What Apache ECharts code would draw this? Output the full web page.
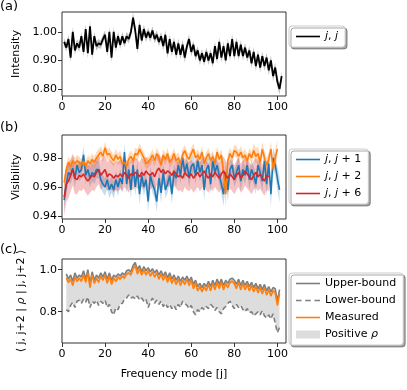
<!DOCTYPE html>
<html>
<head>
<meta charset="utf-8">
<script src="https://cdn.jsdelivr.net/npm/echarts@6/dist/echarts.min.js"></script>
<style>
  html, body { margin: 0; padding: 0; background: #fff; }
  #chart { width: 407px; height: 390px; }
</style>
</head>
<body>
<div id="chart"></div>
<script>
// (a) intensity, modes j = 1..102
const intensity = [
  0.965, 0.945, 0.975, 0.91, 1.00, 0.935, 0.96, 0.945, 0.985, 0.93,
  1.01, 0.925, 1.02, 0.92, 0.985, 0.95, 0.96, 0.955, 0.975, 0.99,
  0.93, 1.00, 0.91, 1.00, 0.945, 0.985, 0.955, 0.985, 0.96, 0.985,
  0.975, 1.00, 1.05, 1.005, 0.94, 1.025, 0.97, 1.01, 0.98, 1.00,
  0.98, 1.005, 0.975, 0.99, 0.965, 0.985, 0.95, 0.99, 0.925, 0.975,
  0.93, 0.965, 0.92, 0.96, 0.92, 0.955, 0.91, 0.95, 0.975, 0.93,
  0.955, 0.915, 0.935, 0.90, 0.925, 0.895, 0.93, 0.90, 0.925, 0.89,
  0.95, 0.905, 0.965, 0.91, 0.95, 0.90, 0.96, 0.915, 0.975, 0.915,
  0.965, 0.915, 0.955, 0.915, 0.945, 0.91, 0.935, 0.89, 0.93, 0.88,
  0.92, 0.875, 0.915, 0.88, 0.91, 0.865, 0.90, 0.845, 0.875, 0.825,
  0.80, 0.845
];
const intensityErr = [
  0.014, 0.014, 0.015, 0.018, 0.017, 0.015, 0.014, 0.015, 0.016, 0.017,
  0.018, 0.018, 0.019, 0.018, 0.016, 0.016, 0.015, 0.015, 0.015, 0.016,
  0.017, 0.017, 0.018, 0.017, 0.016, 0.016, 0.015, 0.015, 0.015, 0.015,
  0.015, 0.016, 0.018, 0.017, 0.017, 0.017, 0.016, 0.016, 0.015, 0.015,
  0.015, 0.015, 0.015, 0.015, 0.015, 0.015, 0.016, 0.017, 0.017, 0.017,
  0.016, 0.017, 0.016, 0.017, 0.016, 0.018, 0.017, 0.016, 0.016, 0.016,
  0.015, 0.016, 0.015, 0.016, 0.015, 0.015, 0.015, 0.016, 0.015, 0.016,
  0.016, 0.017, 0.017, 0.017, 0.016, 0.017, 0.017, 0.017, 0.018, 0.017,
  0.017, 0.016, 0.016, 0.016, 0.016, 0.016, 0.016, 0.017, 0.016, 0.017,
  0.016, 0.017, 0.016, 0.016, 0.016, 0.017, 0.017, 0.018, 0.017, 0.018,
  0.019, 0.018
];

// (b) visibility, j,j+1 (j=1..101), j,j+2 (j=1..100), j,j+6 (j=1..96)
const vis1 = [
  0.951, 0.962, 0.970, 0.968, 0.973, 0.966, 0.975, 0.970, 0.972, 0.982,
  0.968, 0.972, 0.966, 0.970, 0.968, 0.972, 0.972, 0.965, 0.962, 0.960,
  0.965, 0.958, 0.962, 0.958, 0.965, 0.960, 0.966, 0.962, 0.984, 0.962,
  0.972, 0.958, 0.975, 0.960, 0.972, 0.955, 0.968, 0.960, 0.965, 0.950,
  0.968, 0.962, 0.958, 0.950, 0.966, 0.956, 0.970, 0.958, 0.962, 0.968,
  0.955, 0.970, 0.966, 0.975, 0.968, 0.980, 0.970, 0.976, 0.966, 0.974,
  0.976, 0.968, 0.978, 0.970, 0.975, 0.958, 0.972, 0.975, 0.962, 0.978,
  0.970, 0.975, 0.968, 0.962, 0.955, 0.970, 0.958, 0.972, 0.975, 0.966,
  0.970, 0.975, 0.964, 0.972, 0.968, 0.975, 0.965, 0.972, 0.968, 0.962,
  0.975, 0.970, 0.964, 0.978, 0.962, 0.976, 0.955, 0.980, 0.975, 0.966,
  0.958
];
const vis1Err = [
  0.007, 0.007, 0.006, 0.006, 0.006, 0.006, 0.006, 0.006, 0.006, 0.006,
  0.006, 0.006, 0.006, 0.006, 0.006, 0.006, 0.006, 0.006, 0.006, 0.006,
  0.006, 0.006, 0.006, 0.006, 0.006, 0.006, 0.006, 0.006, 0.006, 0.006,
  0.006, 0.006, 0.006, 0.006, 0.006, 0.007, 0.006, 0.006, 0.006, 0.007,
  0.006, 0.006, 0.006, 0.007, 0.006, 0.007, 0.006, 0.006, 0.006, 0.006,
  0.007, 0.006, 0.006, 0.006, 0.006, 0.006, 0.006, 0.006, 0.006, 0.006,
  0.006, 0.006, 0.006, 0.006, 0.006, 0.007, 0.006, 0.006, 0.007, 0.006,
  0.006, 0.006, 0.006, 0.007, 0.008, 0.007, 0.008, 0.006, 0.006, 0.006,
  0.006, 0.006, 0.007, 0.006, 0.006, 0.006, 0.007, 0.006, 0.006, 0.007,
  0.006, 0.006, 0.007, 0.006, 0.008, 0.007, 0.009, 0.007, 0.007, 0.008,
  0.009
];
const vis2 = [
  0.963, 0.972, 0.977, 0.974, 0.978, 0.976, 0.978, 0.977, 0.975, 0.978,
  0.974, 0.978, 0.976, 0.979, 0.977, 0.980, 0.982, 0.984, 0.981, 0.987,
  0.982, 0.983, 0.980, 0.978, 0.982, 0.979, 0.981, 0.976, 0.977, 0.974,
  0.979, 0.981, 0.978, 0.983, 0.982, 0.986, 0.983, 0.980, 0.976, 0.977,
  0.979, 0.982, 0.978, 0.983, 0.980, 0.975, 0.982, 0.979, 0.983, 0.977,
  0.979, 0.983, 0.978, 0.980, 0.976, 0.982, 0.985, 0.981, 0.979, 0.983,
  0.986, 0.980, 0.982, 0.979, 0.984, 0.976, 0.980, 0.983, 0.978, 0.981,
  0.976, 0.984, 0.979, 0.982, 0.970, 0.955, 0.978, 0.983, 0.980, 0.985,
  0.984, 0.981, 0.984, 0.980, 0.982, 0.978, 0.983, 0.980, 0.985, 0.981,
  0.983, 0.977, 0.986, 0.980, 0.975, 0.979, 0.986, 0.972, 0.980, 0.986
];
const vis2Err = [
  0.004, 0.004, 0.004, 0.004, 0.004, 0.004, 0.004, 0.004, 0.004, 0.004,
  0.004, 0.004, 0.004, 0.004, 0.004, 0.004, 0.004, 0.004, 0.004, 0.004,
  0.004, 0.004, 0.004, 0.004, 0.004, 0.004, 0.004, 0.004, 0.004, 0.004,
  0.004, 0.004, 0.004, 0.004, 0.004, 0.004, 0.004, 0.004, 0.004, 0.004,
  0.004, 0.004, 0.004, 0.004, 0.004, 0.004, 0.004, 0.004, 0.004, 0.004,
  0.004, 0.004, 0.004, 0.004, 0.004, 0.004, 0.004, 0.004, 0.004, 0.004,
  0.004, 0.004, 0.004, 0.004, 0.004, 0.004, 0.004, 0.004, 0.004, 0.004,
  0.004, 0.004, 0.004, 0.004, 0.006, 0.009, 0.005, 0.004, 0.004, 0.004,
  0.004, 0.004, 0.004, 0.004, 0.004, 0.004, 0.004, 0.004, 0.005, 0.005,
  0.005, 0.005, 0.005, 0.005, 0.005, 0.005, 0.005, 0.006, 0.006, 0.006
];
const vis6 = [
  0.953, 0.962, 0.964, 0.968, 0.972, 0.966, 0.965, 0.968, 0.967, 0.969,
  0.966, 0.964, 0.966, 0.968, 0.967, 0.970, 0.972, 0.968, 0.970, 0.972,
  0.967, 0.969, 0.968, 0.966, 0.968, 0.967, 0.969, 0.967, 0.970, 0.968,
  0.966, 0.969, 0.968, 0.970, 0.969, 0.967, 0.970, 0.968, 0.971, 0.969,
  0.968, 0.970, 0.967, 0.971, 0.973, 0.970, 0.972, 0.969, 0.971, 0.970,
  0.968, 0.971, 0.969, 0.967, 0.968, 0.966, 0.970, 0.968, 0.967, 0.969,
  0.966, 0.968, 0.970, 0.967, 0.969, 0.971, 0.968, 0.966, 0.969, 0.967,
  0.970, 0.968, 0.966, 0.969, 0.971, 0.968, 0.966, 0.969, 0.967, 0.965,
  0.968, 0.970, 0.966, 0.968, 0.971, 0.969, 0.967, 0.965, 0.968, 0.970,
  0.967, 0.969, 0.966, 0.964, 0.968, 0.967
];
const vis6Err = [
  0.013, 0.012, 0.012, 0.011, 0.011, 0.011, 0.010, 0.010, 0.010, 0.010,
  0.010, 0.010, 0.010, 0.010, 0.010, 0.010, 0.010, 0.010, 0.010, 0.010,
  0.010, 0.010, 0.010, 0.010, 0.010, 0.010, 0.010, 0.010, 0.010, 0.010,
  0.010, 0.010, 0.010, 0.010, 0.010, 0.010, 0.010, 0.010, 0.010, 0.010,
  0.010, 0.010, 0.010, 0.010, 0.010, 0.010, 0.010, 0.010, 0.010, 0.010,
  0.010, 0.010, 0.010, 0.010, 0.010, 0.010, 0.010, 0.010, 0.010, 0.010,
  0.010, 0.010, 0.010, 0.010, 0.010, 0.010, 0.010, 0.010, 0.010, 0.010,
  0.010, 0.010, 0.010, 0.010, 0.010, 0.010, 0.010, 0.010, 0.010, 0.010,
  0.010, 0.010, 0.010, 0.010, 0.010, 0.010, 0.010, 0.010, 0.010, 0.010,
  0.010, 0.010, 0.010, 0.010, 0.010, 0.010
];

// (c) <j,j+2|rho|j,j+2>, j = 2..101
const upper = [
  0.98, 0.955, 0.975, 0.945, 0.985, 0.96, 0.975, 0.965, 0.995, 0.955,
  1.00, 0.935, 0.99, 0.95, 0.975, 0.96, 0.985, 0.965, 0.99, 0.955,
  0.985, 0.95, 0.975, 0.965, 0.98, 0.97, 0.985, 0.975, 0.995, 1.00,
  0.99, 1.02, 1.035, 1.00, 1.02, 0.99, 1.015, 0.995, 1.01, 0.99,
  1.005, 0.985, 1.00, 0.975, 0.995, 0.97, 0.99, 0.96, 0.985, 0.955,
  0.975, 0.95, 0.97, 0.945, 0.965, 0.95, 0.97, 0.945, 0.965, 0.93,
  0.95, 0.92, 0.935, 0.915, 0.935, 0.92, 0.945, 0.92, 0.95, 0.925,
  0.955, 0.93, 0.955, 0.925, 0.95, 0.935, 0.955, 0.96, 0.95, 0.93,
  0.955, 0.925, 0.95, 0.925, 0.945, 0.92, 0.94, 0.915, 0.935, 0.91,
  0.93, 0.905, 0.93, 0.90, 0.92, 0.895, 0.915, 0.91, 0.85, 0.905
];
const measured = [
  0.96, 0.94, 0.955, 0.925, 0.965, 0.945, 0.96, 0.945, 0.975, 0.94,
  0.985, 0.915, 0.975, 0.935, 0.96, 0.94, 0.97, 0.95, 0.975, 0.935,
  0.97, 0.93, 0.96, 0.945, 0.965, 0.955, 0.97, 0.96, 0.98, 0.985,
  0.975, 1.005, 1.02, 0.98, 1.005, 0.975, 1.00, 0.975, 0.995, 0.97,
  0.99, 0.965, 0.985, 0.955, 0.98, 0.95, 0.975, 0.94, 0.97, 0.935,
  0.96, 0.93, 0.955, 0.925, 0.95, 0.93, 0.955, 0.925, 0.95, 0.91,
  0.935, 0.90, 0.92, 0.895, 0.92, 0.90, 0.93, 0.90, 0.935, 0.905,
  0.94, 0.91, 0.94, 0.905, 0.935, 0.915, 0.94, 0.945, 0.935, 0.91,
  0.94, 0.905, 0.935, 0.905, 0.93, 0.90, 0.925, 0.895, 0.92, 0.89,
  0.915, 0.885, 0.915, 0.88, 0.905, 0.875, 0.90, 0.89, 0.83, 0.885
];
const measuredErr = [
  0.009, 0.009, 0.009, 0.009, 0.009, 0.009, 0.009, 0.009, 0.009, 0.009,
  0.009, 0.010, 0.009, 0.009, 0.009, 0.009, 0.009, 0.009, 0.009, 0.009,
  0.009, 0.009, 0.009, 0.009, 0.009, 0.009, 0.009, 0.009, 0.009, 0.009,
  0.009, 0.009, 0.009, 0.009, 0.009, 0.009, 0.009, 0.009, 0.009, 0.009,
  0.009, 0.009, 0.009, 0.009, 0.009, 0.009, 0.009, 0.009, 0.009, 0.009,
  0.009, 0.009, 0.009, 0.009, 0.009, 0.009, 0.009, 0.009, 0.009, 0.009,
  0.009, 0.009, 0.009, 0.009, 0.009, 0.009, 0.009, 0.009, 0.009, 0.009,
  0.009, 0.009, 0.009, 0.009, 0.009, 0.009, 0.009, 0.009, 0.009, 0.009,
  0.009, 0.009, 0.009, 0.009, 0.009, 0.009, 0.009, 0.009, 0.009, 0.009,
  0.009, 0.009, 0.009, 0.009, 0.009, 0.009, 0.009, 0.010, 0.011, 0.010
];
const lower = [
  0.81, 0.80, 0.83, 0.845, 0.82, 0.85, 0.855, 0.84, 0.86, 0.845,
  0.87, 0.82, 0.85, 0.84, 0.855, 0.83, 0.85, 0.84, 0.855, 0.82,
  0.835, 0.80, 0.785, 0.82, 0.81, 0.835, 0.84, 0.86, 0.865, 0.88,
  0.865, 0.87, 0.86, 0.875, 0.855, 0.865, 0.85, 0.86, 0.82, 0.845,
  0.865, 0.84, 0.855, 0.835, 0.85, 0.825, 0.84, 0.82, 0.835, 0.815,
  0.83, 0.81, 0.835, 0.82, 0.85, 0.84, 0.83, 0.815, 0.83, 0.80,
  0.785, 0.81, 0.80, 0.82, 0.81, 0.825, 0.815, 0.835, 0.825, 0.805,
  0.82, 0.80, 0.79, 0.815, 0.825, 0.84, 0.85, 0.83, 0.815, 0.835,
  0.82, 0.83, 0.81, 0.80, 0.815, 0.795, 0.80, 0.78, 0.79, 0.80,
  0.785, 0.805, 0.78, 0.77, 0.785, 0.765, 0.79, 0.745, 0.70, 0.725
];

const xTicks = [0, 20, 40, 60, 80, 100];

const pts = (arr, start) => arr.map((v, i) => [i + start, v]);

const chart = echarts.init(document.getElementById("chart"));

const grids = [
  { left: 62, top: 12, width: 224, height: 84 },
  { left: 62, top: 135, width: 224, height: 84 },
  { left: 62, top: 259, width: 224, height: 84 }
].map(g => Object.assign(g, { show: true, borderColor: "#333", borderWidth: 1 }));

const axisText = { color: "#000", fontSize: 11, fontFamily: "DejaVu Sans" };

function xAxis(i) {
  return {
    type: "value", gridIndex: i, min: 0, max: 104,
    axisLine: { show: false },
    axisTick: { show: true, inside: false, length: 4, lineStyle: { color: "#333" }, customValues: xTicks },
    axisLabel: Object.assign({ margin: 6, customValues: xTicks }, axisText),
    splitLine: { show: false },
    name: i === 2 ? "Frequency mode [j]" : "",
    nameLocation: "middle", nameGap: 26,
    nameTextStyle: { color: "#000", fontSize: 11, fontFamily: "DejaVu Sans" }
  };
}
function yAxis(i, min, max, ticks, digits, name, gap) {
  return {
    type: "value", gridIndex: i, min: min, max: max,
    axisLine: { show: false },
    axisTick: { show: true, inside: false, length: 4, lineStyle: { color: "#333" }, customValues: ticks },
    axisLabel: Object.assign({ margin: 5, customValues: ticks, formatter: v => v.toFixed(digits) }, axisText),
    splitLine: { show: false },
    name: name, nameLocation: "middle", nameGap: gap,
    nameTextStyle: { color: "#000", fontSize: 11, fontFamily: "DejaVu Sans", rich: { i: { fontStyle: "italic", fontSize: 11, fontFamily: "DejaVu Sans" } } }
  };
}

// filled band between lo and hi, drawn as one polygon in axis coordinates
function band(name, start, lo, hi, idx, color) {
  const data = lo.map((v, i) => [i + start, v, hi[i]]);
  return {
    name: name, type: "custom", xAxisIndex: idx, yAxisIndex: idx, data: data,
    encode: { x: 0, y: [1, 2] }, clip: true, silent: true, z: 1,
    itemStyle: { color: color },
    renderItem: function (params, api) {
      if (params.dataIndex !== 0) return;
      const top = data.map(d => api.coord([d[0], d[2]]));
      const bot = data.map(d => api.coord([d[0], d[1]])).reverse();
      return { type: "polygon", shape: { points: top.concat(bot) }, style: { fill: color } };
    }
  };
}
function errBand(name, arr, err, start, idx, color) {
  return band(name, start, arr.map((v, i) => v - err[i]), arr.map((v, i) => v + err[i]), idx, color);
}
function line(name, arr, start, idx, color, type, width) {
  return {
    name: name, type: "line", xAxisIndex: idx, yAxisIndex: idx, data: pts(arr, start),
    symbol: "none", color: color, lineStyle: { color: color, width: width || 1.6, type: type || "solid" }, z: 3
  };
}

const solidIcon = "path://M0,0H24V1.6H0Z";
const dashIcon = "path://M0,0H5.5V1.6H0Z M9.25,0H14.75V1.6H9.25Z M18.5,0H24V1.6H18.5Z";

const legendBase = {
  orient: "vertical", left: 289, padding: [5, 7, 5, 7], itemGap: 6,
  itemWidth: 24, itemHeight: 8,
  backgroundColor: "#fff", borderColor: "#ccc", borderWidth: 1, borderRadius: 3,
  shadowColor: "rgba(0,0,0,0.35)", shadowOffsetX: 2, shadowOffsetY: 2, shadowBlur: 0,
  textStyle: {
    color: "#000", fontSize: 11, fontFamily: "DejaVu Sans",
    rich: { i: { fontStyle: "italic", fontSize: 11, fontFamily: "DejaVu Sans", color: "#000" } }
  },
  formatter: n => n.replace(/[jρ]/g, c => "{i|" + c + "}")
};

chart.setOption({
  backgroundColor: "#fff",
  animation: false,
  title: [
    { text: "(a)", left: 0, top: 0 },
    { text: "(b)", left: 0, top: 121 },
    { text: "(c)", left: 0, top: 243 }
  ].map(t => Object.assign(t, { padding: 0, textStyle: { color: "#000", fontSize: 13, fontWeight: "normal", fontFamily: "DejaVu Sans" } })),
  grid: grids,
  xAxis: [xAxis(0), xAxis(1), xAxis(2)],
  yAxis: [
    yAxis(0, 0.775, 1.07, [0.8, 0.9, 1.0], 2, "Intensity", 35),
    yAxis(1, 0.938, 0.9957, [0.94, 0.96, 0.98], 2, "Visibility", 35),
    yAxis(2, 0.651, 1.051, [0.8, 1.0], 1, "⟨ j, j+2 | {i|ρ} | j, j+2 ⟩", 35)
  ],
  legend: [
    Object.assign({}, legendBase, { top: 26, data: [{ name: "j, j", icon: solidIcon }] }),
    Object.assign({}, legendBase, {
      top: 149,
      data: ["j, j + 1", "j, j + 2", "j, j + 6"].map(n => ({ name: n, icon: solidIcon }))
    }),
    Object.assign({}, legendBase, {
      top: 273,
      data: [
        { name: "Upper-bound", icon: solidIcon },
        { name: "Lower-bound", icon: dashIcon },
        { name: "Measured", icon: solidIcon },
        { name: "Positive ρ", icon: "rect" }
      ]
    })
  ],
  series: [
    errBand("int-band", intensity, intensityErr, 1, 0, "rgba(128,128,128,0.5)"),
    line("j, j", intensity, 1, 0, "#000", "solid", 1.8),

    errBand("v1-band", vis1, vis1Err, 1, 1, "rgba(31,119,180,0.25)"),
    errBand("v2-band", vis2, vis2Err, 1, 1, "rgba(255,127,14,0.28)"),
    errBand("v6-band", vis6, vis6Err, 1, 1, "rgba(214,39,40,0.28)"),
    line("j, j + 1", vis1, 1, 1, "#1f77b4"),
    line("j, j + 2", vis2, 1, 1, "#ff7f0e"),
    line("j, j + 6", vis6, 1, 1, "#d62728"),

    band("Positive ρ", 2, lower, upper, 2, "#dddddd"),
    errBand("meas-band", measured, measuredErr, 2, 2, "rgba(255,127,14,0.3)"),
    line("Upper-bound", upper, 2, 2, "#7f7f7f"),
    line("Lower-bound", lower, 2, 2, "#7f7f7f", [5, 3]),
    line("Measured", measured, 2, 2, "#ff7f0e")
  ]
});
</script>
</body>
</html>
